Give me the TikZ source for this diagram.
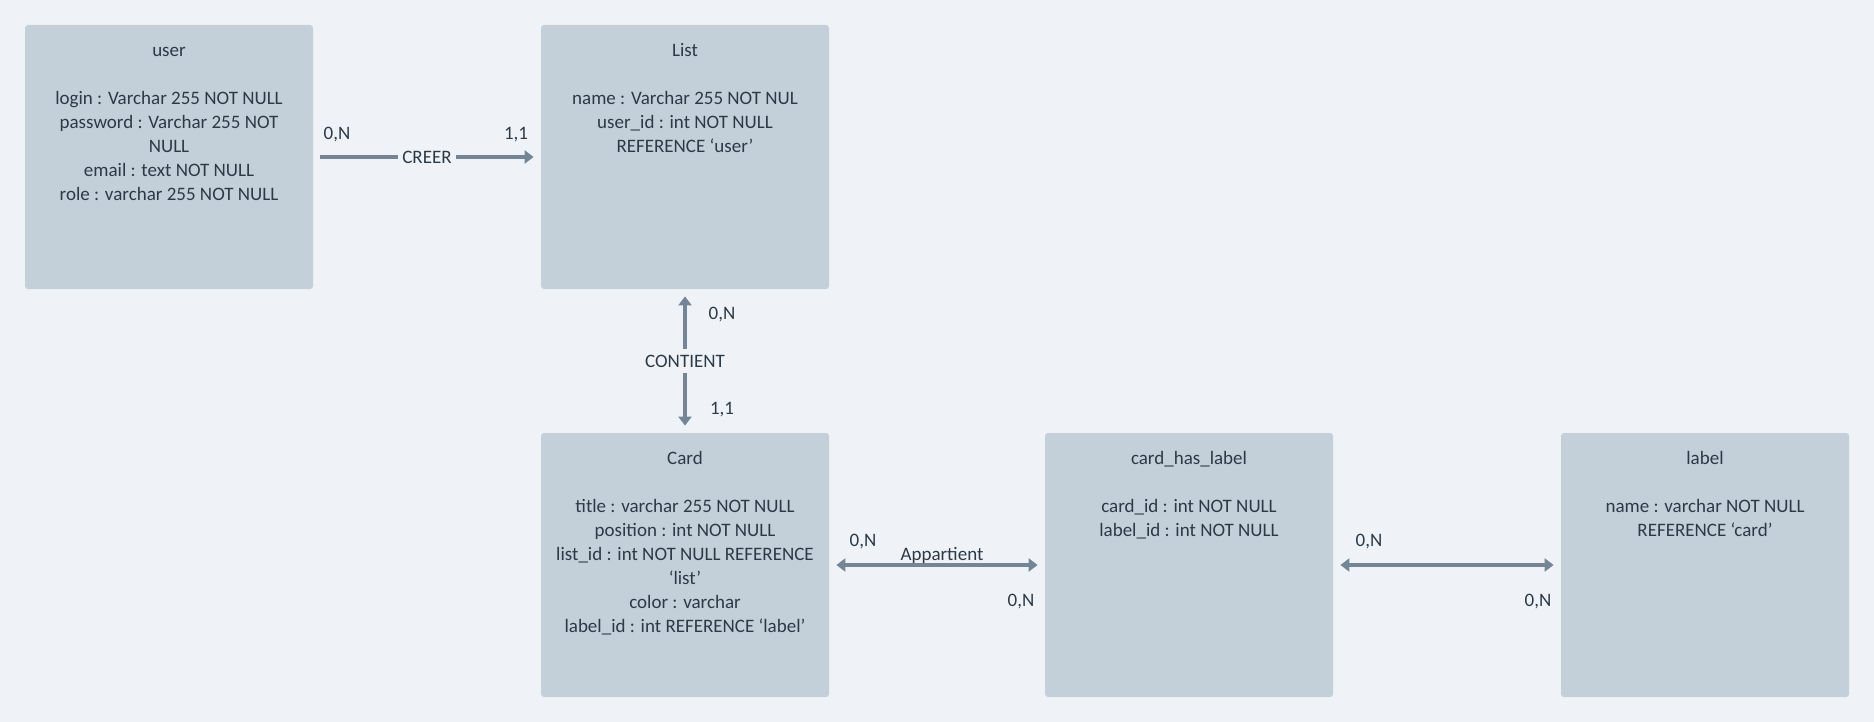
\documentclass[tikz,border=0pt]{standalone}
\usepackage{fontspec}
\setmainfont{Carlito}
\usetikzlibrary{arrows.meta}
\definecolor{bgcol}{HTML}{EFF3F7}
\definecolor{boxcol}{HTML}{C3CFD9}
\definecolor{linkcol}{HTML}{748696}
\definecolor{txtcol}{HTML}{2D3A46}

\begin{document}
\begin{tikzpicture}[x=0.5pt,y=-0.5pt,
  entity/.style={shape=rectangle,minimum width=144pt,minimum height=132pt,inner sep=0pt,fill=boxcol,rounded corners=1.5pt},
  fields/.style={anchor=north,align=center,inner sep=0pt,text=txtcol,font=\fontsize{9.5}{12}\selectfont},
  link/.style={line width=2pt,draw=linkcol,shorten <=3.5pt,shorten >=3.5pt},
  rel/.style={fill=bgcol,inner xsep=2pt,inner ysep=3pt,text=txtcol,font=\fontsize{9.5}{12}\selectfont},
  cardin/.style={inner sep=0pt,text=txtcol,font=\fontsize{9.5}{12}\selectfont}]
%background
\useasboundingbox (0,0) rectangle (1874,722);
\path[fill=bgcol] (0,0) rectangle (1874,722);

\path (169,157) node (user) [entity] {};
\path (685,157) node (list) [entity] {};
\path (685,565) node (card) [entity] {};
\path (1189,565) node (cardhaslabel) [entity] {};
\path (1705,565) node (label) [entity] {};

\path (user.north) ++(0,15) node (usertxt) [fields] {\strut user\\[12pt]login : Varchar 255 NOT NULL\\password : Varchar 255 NOT\\NULL\\email : text NOT NULL\\role : varchar 255 NOT NULL};
\path (list.north) ++(0,15) node (listtxt) [fields] {\strut List\\[12pt]name : Varchar 255 NOT NUL\\user\_id : int NOT NULL\\REFERENCE ‘user’};
\path (card.north) ++(0,15) node (cardtxt) [fields] {\strut Card\\[12pt]title : varchar 255 NOT NULL\\position : int NOT NULL\\list\_id : int NOT NULL REFERENCE\\‘list’\\color : varchar\\label\_id : int REFERENCE ‘label’};
\path (cardhaslabel.north) ++(0,15) node (cardhaslabeltxt) [fields] {\strut card\_has\_label\\[12pt]card\_id : int NOT NULL\\label\_id : int NOT NULL};
\path (label.north) ++(0,15) node (labeltxt) [fields] {\strut label\\[12pt]name : varchar NOT NULL\\REFERENCE ‘card’};

\draw [link,-{Triangle[length=4.5pt,width=6.5pt]}] (user) -- node (creer) [rel] {CREER} (list);
\draw [link,{Triangle[length=4.5pt,width=6.5pt]}-{Triangle[length=4.5pt,width=6.5pt]}] (list) -- node (contient) [rel] {CONTIENT} (card);
\draw [link,{Triangle[length=4.5pt,width=6.5pt]}-{Triangle[length=4.5pt,width=6.5pt]}] (card) -- node (appartient) [cardin,anchor=base,xshift=2.5pt,yshift=2.5pt] {Appartient} (cardhaslabel);
\draw [link,{Triangle[length=4.5pt,width=6.5pt]}-{Triangle[length=4.5pt,width=6.5pt]}] (cardhaslabel) -- (label);

\path (337,135) node (creerA) [cardin] {0,N};
\path (516,135) node (creerB) [cardin] {1,1};
\path (722,315) node (contientA) [cardin] {0,N};
\path (722,410) node (contientB) [cardin] {1,1};
\path (863,542) node (appartientA) [cardin] {0,N};
\path (1021,602) node (appartientB) [cardin] {0,N};
\path (1369,542) node (possedeA) [cardin] {0,N};
\path (1538,602) node (possedeB) [cardin] {0,N};
\end{tikzpicture}
\end{document}
